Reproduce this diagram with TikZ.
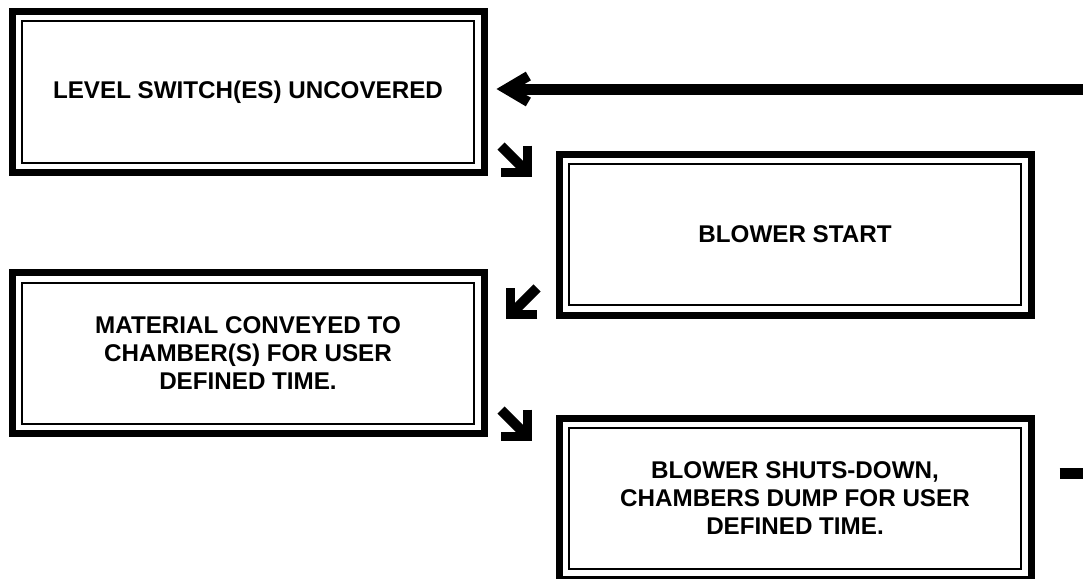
\documentclass[tikz,border=0pt]{standalone}
\usepackage{fontspec}
\setmainfont{Liberation Sans}
\usetikzlibrary{arrows.meta, positioning}

\begin{document}
\begin{tikzpicture}[
    x=1pt, y=1pt,
    panel/.style={rectangle, draw, line width=7pt, minimum width=472pt, minimum height=161pt, align=center, font=\fontsize{24.2}{28}\selectfont\bfseries},
    heavy/.style={-{Straight Barb[length=22pt, width=26pt, line width=10pt]}, line width=11pt},
    flow/.style={-{Straight Barb[length=19pt, width=38pt, line width=9pt]}, line width=10pt},
    node distance=93pt and 68pt
]
    \useasboundingbox (0,0) rectangle (1083,-578);

    % Nodes
    \node[panel] (lvl) at (248,-92) {LEVEL SWITCH(ES) UNCOVERED};
    \node[panel, right=of lvl, yshift=-142.5pt] (blow) {BLOWER START};
    \node[panel, below=of lvl] (conv) {MATERIAL CONVEYED TO\\CHAMBER(S) FOR USER\\DEFINED TIME.};
    \node[panel, below=96pt of blow] (dump) {BLOWER SHUTS-DOWN,\\CHAMBERS DUMP FOR USER\\DEFINED TIME.};

    % Inner frames
    \foreach \n in {lvl, blow, conv, dump}
        \draw[line width=2pt] ([shift={(13.5pt,-13.5pt)}]\n.north west) rectangle ([shift={(-13.5pt,13.5pt)}]\n.south east);

    % Loose ends
    \coordinate (in) at (1090,-89);
    \coordinate (back) at (1090,-473.5);
    \coordinate (d1a) at (501,-146);
    \coordinate (d1b) at (532,-177);
    \coordinate (d2a) at (537,-288);
    \coordinate (d2b) at (506,-319);
    \coordinate (d3a) at (501,-410);
    \coordinate (d3b) at (532,-441);

    % Arrows
    \draw[heavy, shorten >=9pt] (in) -- (lvl.east |- in);
    \draw[line width=11pt, shorten <=25pt] (dump.east |- back) -- (back);
    \draw[flow] (d1a) -- (d1b);
    \draw[flow] (d2a) -- (d2b);
    \draw[flow] (d3a) -- (d3b);
\end{tikzpicture}
\end{document}
